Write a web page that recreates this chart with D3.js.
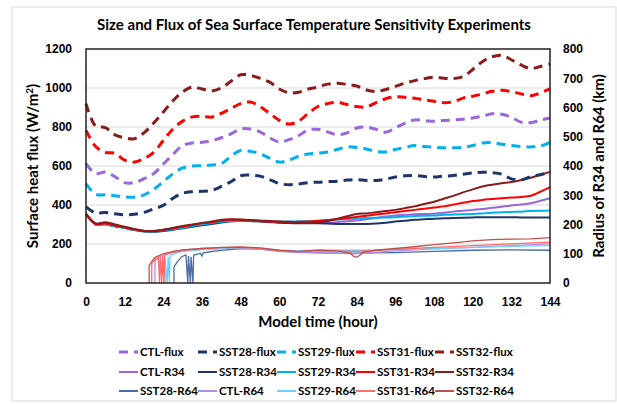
<!DOCTYPE html>
<html lang="en">
<head>
<meta charset="UTF-8">
<title>Size and Flux of SST Sensitivity Experiments</title>
<script src="https://cdn.jsdelivr.net/npm/d3@7"></script>
<style>
  body { margin: 0; background: #fff; }
  svg { font-family: Lato, "Open Sans", sans-serif; }
  .tick text { font-size: 12px; font-weight: bold; fill: #000; }
  .legend text { font-size: 11.5px; font-weight: bold; }
</style>
</head>
<body>
<svg width="617" height="404"></svg>
<script>
// ---- data ----
const hours = d3.range(0, 145, 3);

// surface heat flux (W/m2), every 3 h
const ctlFlux = [612,561,569,545,515,515,535,561,610,660,705,718,722,730,745,765,790,790,775,745,723,735,756,785,788,775,760,770,795,799,788,773,795,820,836,833,829,833,836,840,846,855,868,865,850,825,822,835,846];
const sst28Flux = [390,359,362,355,350,352,362,380,398,435,460,468,470,475,495,520,550,553,548,530,510,504,508,515,517,520,522,528,530,526,526,532,544,550,551,546,543,548,551,558,564,568,566,558,534,528,545,555,568];
const sst29Flux = [509,455,452,448,441,440,452,480,520,560,590,600,602,605,612,650,680,675,663,640,620,630,650,662,666,672,685,698,695,687,675,672,685,695,705,700,696,693,693,696,705,718,720,712,705,700,698,702,722];
const sst31Flux = [783,700,670,665,630,620,638,670,731,790,830,852,855,851,870,895,920,928,905,870,834,815,830,870,905,920,927,915,905,903,925,945,955,952,948,940,932,925,930,948,958,969,983,988,982,970,960,975,995];
const sst32Flux = [920,805,797,760,745,740,770,820,877,935,980,1005,995,985,1000,1035,1068,1065,1050,1030,995,975,978,995,1005,1020,1024,1018,1010,990,982,992,1008,1025,1038,1048,1055,1050,1048,1058,1095,1135,1160,1168,1145,1118,1100,1110,1123];

// radius of 34-kt wind (km), every 3 h
const ctlR34 = [235,204,203,196,190,183,179,178,181,185,190,196,201,205,209,211,212,212,211,209,207,206,205,205,205,206,208,211,214,218,222,227,231,233,235,236,237,240,244,247,250,253,257,261,265,268,273,281,290];
const sst28R34 = [237,203,201,194,188,181,176,175,178,182,187,192,197,202,207,211,213,212,210,208,206,205,204,204,204,203,202,202,202,202,203,206,210,213,216,218,220,221,222,223,224,225,225,225,225,224,224,224,224];
const sst29R34 = [236,202,200,194,188,182,177,176,180,184,189,195,200,205,209,212,213,213,212,211,210,210,211,212,213,215,217,219,220,222,223,224,225,227,229,230,231,233,234,235,236,238,240,242,243,244,246,247,248];
const sst31R34 = [235,200,203,196,190,183,178,178,182,187,193,198,204,208,213,216,216,214,212,210,209,208,209,210,212,215,218,222,226,230,234,238,242,246,250,254,258,262,268,274,280,284,287,290,292,294,298,312,328];
const sst32R34 = [237,203,208,200,192,185,178,177,182,188,195,200,205,210,216,218,217,215,214,212,210,209,207,206,208,212,220,228,236,238,242,246,250,256,262,270,278,288,298,310,320,330,336,341,345,352,360,370,380];

// radius of 64-kt wind (km), [hour, km]; 0 where the radius drops out
const sst28R64 = [[27.3,0],[27.3,55],[28.5,75],[29.7,90],[31,96],[31.6,0],[31.8,92],[32.4,0],[32.6,90],[33.2,0],[33.4,95],[34.3,98],[35.5,102],[36,92],[36.4,103],[38,106],[40.5,110],[48,118],[54,116],[60,110],[66,106],[72,103],[84,102],[96,104],[108,108],[120,112],[132,113],[144,112]];
const ctlR64 = [[21.4,0],[21.4,80],[22.5,88],[24,95],[27,104],[30,110],[36,115],[42,118],[48,120],[54,116],[60,108],[66,104],[72,104],[84,100],[96,110],[108,117],[120,122],[132,128],[144,134]];
const sst29R64 = [[24.6,0],[24.6,85],[25.2,0],[25.5,90],[25.9,0],[26.1,95],[30,108],[36,114],[42,118],[48,121],[54,118],[60,112],[66,110],[72,113],[84,112],[96,114],[108,118],[120,122],[132,125],[144,128]];
const sst31R64 = [[20.4,0],[20.4,68],[21.5,80],[22.5,88],[22.8,0],[23.1,90],[23.5,0],[23.8,92],[24.2,0],[24.4,95],[27,106],[30,112],[36,118],[42,121],[48,122],[54,118],[60,110],[66,107],[72,110],[84,108],[96,115],[108,122],[120,128],[132,134],[144,140]];
const sst32R64 = [[19.6,0],[19.6,60],[20.5,75],[21.5,88],[23,95],[24,100],[27,108],[30,113],[36,118],[42,122],[48,123],[54,120],[60,112],[66,108],[72,112],[78,110],[82,102],[83,92],[84,88],[85,95],[86,106],[88,108],[90,112],[96,118],[102,124],[108,131],[114,137],[120,144],[126,148],[132,150],[138,151],[144,155]];

const xTicks = d3.range(0, 145, 12);
const leftTicks = d3.range(0, 1201, 200);
const rightTicks = d3.range(0, 801, 100);

// ---- layout ----
const svg = d3.select("svg");
const margin = { top: 49, right: 67, bottom: 121, left: 86 };
const W = 617, H = 404;

const x = d3.scaleLinear().domain([0, 144]).range([margin.left, W - margin.right]);
const yL = d3.scaleLinear().domain([0, 1200]).range([H - margin.bottom, margin.top]);
const yR = d3.scaleLinear().domain([0, 800]).range([H - margin.bottom, margin.top]);

// outer chart border
svg.append("rect")
  .attr("x", 12).attr("y", 7).attr("width", 604).attr("height", 394)
  .attr("fill", "none").attr("stroke", "#d9d9d9");

svg.append("text")
  .attr("x", 314).attr("y", 30)
  .attr("text-anchor", "middle")
  .style("font-size", "15px").style("font-weight", "bold")
  .text("Size and Flux of Sea Surface Temperature Sensitivity Experiments");

// gridlines
svg.append("g").selectAll("line")
  .data(leftTicks.slice(1, -1))
  .join("line")
  .attr("x1", x(0)).attr("x2", x(144))
  .attr("y1", d => yL(d)).attr("y2", d => yL(d))
  .attr("stroke", "#d9d9d9").attr("stroke-width", 1);

// axes
svg.append("g")
  .attr("transform", `translate(0,${yL(0)})`)
  .call(d3.axisBottom(x).tickValues(xTicks).tickSize(0).tickPadding(14))
  .call(g => g.select(".domain").remove());

svg.append("g")
  .attr("transform", `translate(${x(0)},0)`)
  .call(d3.axisLeft(yL).tickValues(leftTicks).tickFormat(d3.format("d")).tickSize(0).tickPadding(14))
  .call(g => g.select(".domain").remove());

svg.append("g")
  .attr("transform", `translate(${x(144)},0)`)
  .call(d3.axisRight(yR).tickValues(rightTicks).tickFormat(d3.format("d")).tickSize(0).tickPadding(13))
  .call(g => g.select(".domain").remove());

svg.append("text")
  .attr("x", 318).attr("y", 327)
  .attr("text-anchor", "middle")
  .style("font-size", "15px").style("font-weight", "bold")
  .text("Model time (hour)");

const lt = svg.append("text")
  .attr("transform", `translate(38,166) rotate(-90)`)
  .attr("text-anchor", "middle")
  .style("font-size", "15px").style("font-weight", "bold");
lt.append("tspan").text("Surface heat flux (W/m");
lt.append("tspan").attr("dy", -5).style("font-size", "10px").text("2");
lt.append("tspan").attr("dy", 5).text(")");

svg.append("text")
  .attr("transform", `translate(604,166) rotate(-90)`)
  .attr("text-anchor", "middle")
  .style("font-size", "15px").style("font-weight", "bold")
  .text("Radius of R34 and R64 (km)");

// ---- series ----
const col = {
  ctl: "#9966dd", sst28: "#1f3468", sst29: "#00b0f0", sst31: "#ff0000", sst32: "#8b1a1a",
  ctl64: "#b38ee6", sst28_64: "#4a6aa8", sst29_64: "#6fd0ff", sst31_64: "#ff6a6a", sst32_64: "#c0504d"
};

const series = [
  { name: "SST28-R64", data: sst28R64, color: col.sst28_64, kind: "r64" },
  { name: "CTL-R64", data: ctlR64, color: col.ctl64, kind: "r64" },
  { name: "SST29-R64", data: sst29R64, color: col.sst29_64, kind: "r64" },
  { name: "SST31-R64", data: sst31R64, color: col.sst31_64, kind: "r64" },
  { name: "SST32-R64", data: sst32R64, color: col.sst32_64, kind: "r64" },
  { name: "CTL-R34", data: ctlR34, color: col.ctl, kind: "r34" },
  { name: "SST28-R34", data: sst28R34, color: col.sst28, kind: "r34" },
  { name: "SST29-R34", data: sst29R34, color: col.sst29, kind: "r34" },
  { name: "SST31-R34", data: sst31R34, color: col.sst31, kind: "r34" },
  { name: "SST32-R34", data: sst32R34, color: col.sst32, kind: "r34" },
  { name: "CTL-flux", data: ctlFlux, color: col.ctl, kind: "flux" },
  { name: "SST28-flux", data: sst28Flux, color: col.sst28, kind: "flux" },
  { name: "SST29-flux", data: sst29Flux, color: col.sst29, kind: "flux" },
  { name: "SST31-flux", data: sst31Flux, color: col.sst31, kind: "flux" },
  { name: "SST32-flux", data: sst32Flux, color: col.sst32, kind: "flux" }
];

const fluxLine = d3.line().x((d, i) => x(hours[i])).y(d => yL(d)).curve(d3.curveCatmullRom);
const r34Line = d3.line().x((d, i) => x(hours[i])).y(d => yR(d)).curve(d3.curveCatmullRom);
const r64Line = d3.line().x(d => x(d[0])).y(d => yR(d[1]));

const style = {
  flux: { w: 3, dash: "9,6" },
  r34: { w: 2, dash: null },
  r64: { w: 1.3, dash: null }
};

svg.append("g").selectAll("path")
  .data(series)
  .join("path")
  .attr("fill", "none")
  .attr("stroke", d => d.color)
  .attr("stroke-width", d => style[d.kind].w)
  .attr("stroke-dasharray", d => style[d.kind].dash)
  .attr("d", d => d.kind === "flux" ? fluxLine(d.data) : d.kind === "r34" ? r34Line(d.data) : r64Line(d.data));

// plot frame
svg.append("rect")
  .attr("x", x(0)).attr("y", yL(1200))
  .attr("width", x(144) - x(0)).attr("height", yL(0) - yL(1200))
  .attr("fill", "none").attr("stroke", "#222").attr("stroke-width", 1.5);

// ---- legend ----
const legendRows = [
  ["CTL-flux", "SST28-flux", "SST29-flux", "SST31-flux", "SST32-flux"],
  ["CTL-R34", "SST28-R34", "SST29-R34", "SST31-R34", "SST32-R34"],
  ["SST28-R64", "CTL-R64", "SST29-R64", "SST31-R64", "SST32-R64"]
];
const colX = [119, 198, 277, 356, 435];
const rowY = [352, 372, 391];

const legend = svg.append("g").attr("class", "legend");
legendRows.forEach((row, r) => {
  row.forEach((name, c) => {
    const s = series.find(d => d.name === name);
    const g = legend.append("g").attr("transform", `translate(${colX[c]},${rowY[r]})`);
    g.append("line")
      .attr("x1", 0).attr("x2", 19)
      .attr("stroke", s.color)
      .attr("stroke-width", s.kind === "flux" ? 3 : 2)
      .attr("stroke-dasharray", s.kind === "flux" ? "9,6" : null);
    g.append("text")
      .attr("x", 21).attr("dy", "0.35em")
      .text(name);
  });
});
</script>
</body>
</html>
